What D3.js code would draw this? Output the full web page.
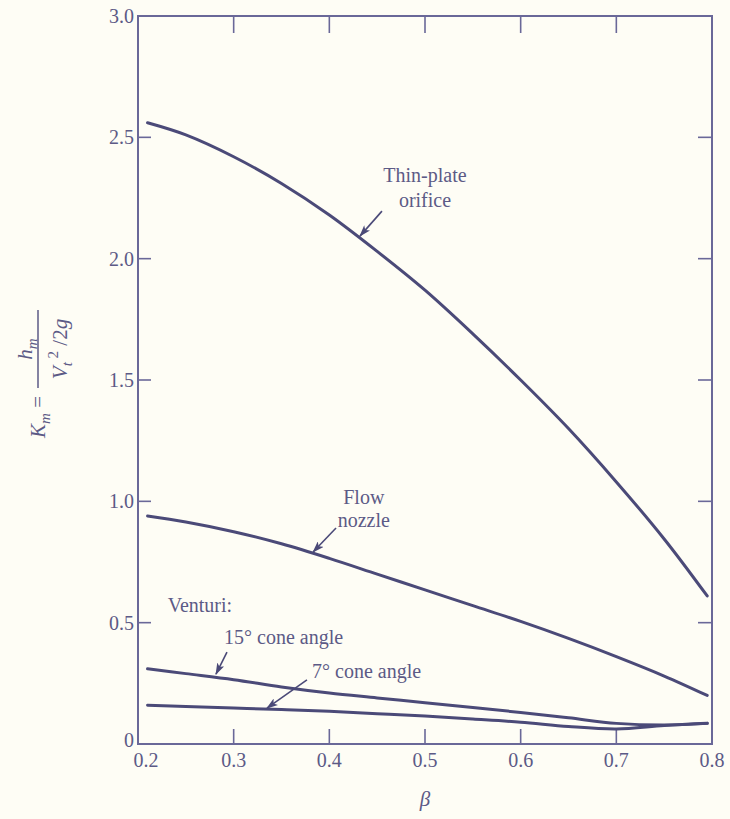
<!DOCTYPE html>
<html>
<head>
<meta charset="utf-8">
<script src="https://cdn.jsdelivr.net/npm/d3@7"></script>
<style>
  body { margin: 0; background: #fefdf5; }
  svg { display: block; }
</style>
</head>
<body>
<div id="chart"></div>
<script>

// Données (beta, coefficient K_m)
const beta = [0.21, 0.25, 0.3, 0.35, 0.4, 0.45, 0.5, 0.55, 0.6, 0.65, 0.7, 0.75, 0.795];
const orifice = [2.56, 2.51, 2.42, 2.31, 2.18, 2.03, 1.87, 1.69, 1.50, 1.30, 1.08, 0.845, 0.61];
const nozzle = [0.94, 0.915, 0.875, 0.825, 0.765, 0.70, 0.635, 0.57, 0.505, 0.435, 0.36, 0.28, 0.20];
const venturi15 = [0.31, 0.29, 0.265, 0.235, 0.21, 0.19, 0.17, 0.15, 0.13, 0.108, 0.085, 0.078, 0.085];
const venturi7 = [0.16, 0.155, 0.148, 0.142, 0.135, 0.125, 0.115, 0.103, 0.09, 0.072, 0.062, 0.076, 0.085];

const xTicks = [0.2, 0.3, 0.4, 0.5, 0.6, 0.7, 0.8];
const yTicks = [0, 0.5, 1.0, 1.5, 2.0, 2.5, 3.0];

const seriesList = [orifice, nozzle, venturi15, venturi7];

// Annotations (en unités de données)
const notes = [
    { lines: ["Thin-plate", "orifice"], x: 0.5, y: [2.345, 2.24], anchor: "middle",
      tail: [0.455, 2.196], tip: [0.432, 2.093] },
    { lines: ["Flow", "nozzle"], x: 0.436, y: [1.018, 0.923], anchor: "middle",
      tail: [0.407, 0.89], tip: [0.383, 0.791] },
    { lines: ["Venturi:"], x: 0.231, y: [0.573], anchor: "start" },
    { lines: ["15° cone angle"], x: 0.29, y: [0.441], anchor: "start",
      tail: [0.293, 0.379], tip: [0.2815, 0.288] },
    { lines: ["7° cone angle"], x: 0.382, y: [0.301], anchor: "start",
      tail: [0.3766, 0.264], tip: [0.3348, 0.148] }
];

//---------------------------------------------------------------------------------------

// Canevas

const width = 730;
const height = 819;
const plotLeft = 138, plotRight = 712, plotTop = 16, plotBottom = 744;

const ink = "#4b4a78";
const textInk = "#5c5a86";
const frameInk = "#6a6898";
const serif = "'Liberation Serif', 'DejaVu Serif', serif";

const svg = d3.select("#chart")
    .append("svg")
    .attr("width", width)
    .attr("height", height)
    .style("background", "#fefdf5");

// Échelles
const scaleX = d3.scaleLinear().domain([0.2, 0.8]).range([plotLeft, plotRight]);
const scaleY = d3.scaleLinear().domain([0, 3]).range([plotBottom, plotTop]);

//---------------------------------------------------------------------------------------

// Cadre et graduations intérieures

svg.append("rect")
    .attr("x", plotLeft).attr("y", plotTop)
    .attr("width", plotRight - plotLeft).attr("height", plotBottom - plotTop)
    .attr("fill", "none")
    .attr("stroke", frameInk)
    .attr("stroke-width", 2);

const innerX = xTicks.slice(1, -1);
const innerY = yTicks.slice(1, -1);

svg.append("g").selectAll("line")
    .data(innerX)
    .join("line")
    .attr("x1", d => scaleX(d)).attr("x2", d => scaleX(d))
    .attr("y1", plotBottom).attr("y2", plotBottom - 15)
    .attr("stroke", frameInk).attr("stroke-width", 1.6);

svg.append("g").selectAll("line")
    .data(innerX)
    .join("line")
    .attr("x1", d => scaleX(d)).attr("x2", d => scaleX(d))
    .attr("y1", plotTop).attr("y2", plotTop + 17)
    .attr("stroke", frameInk).attr("stroke-width", 1.6);

svg.append("g").selectAll("line")
    .data(innerY)
    .join("line")
    .attr("x1", plotLeft).attr("x2", plotLeft + 13)
    .attr("y1", d => scaleY(d)).attr("y2", d => scaleY(d))
    .attr("stroke", frameInk).attr("stroke-width", 1.6);

svg.append("g").selectAll("line")
    .data(innerY)
    .join("line")
    .attr("x1", plotRight).attr("x2", plotRight - 14)
    .attr("y1", d => scaleY(d)).attr("y2", d => scaleY(d))
    .attr("stroke", frameInk).attr("stroke-width", 1.6);

// Labels des axes
svg.append("g").selectAll("text")
    .data(xTicks)
    .join("text")
    .attr("x", d => scaleX(d) + (d === 0.2 ? 8 : 0))
    .attr("y", plotBottom + 23)
    .attr("text-anchor", "middle")
    .attr("font-family", serif)
    .attr("font-size", 20)
    .attr("fill", textInk)
    .text(d => d.toFixed(1));

svg.append("g").selectAll("text")
    .data(yTicks)
    .join("text")
    .attr("x", plotLeft - 4)
    .attr("y", d => scaleY(d) + (d === 0 ? 3 : 7))
    .attr("text-anchor", "end")
    .attr("font-family", serif)
    .attr("font-size", 20)
    .attr("fill", textInk)
    .text(d => d === 0 ? "0" : d.toFixed(1));

// Titre axe X
svg.append("text")
    .attr("x", scaleX(0.5))
    .attr("y", 806)
    .attr("text-anchor", "middle")
    .attr("font-family", serif)
    .attr("font-style", "italic")
    .attr("font-size", 21)
    .attr("fill", textInk)
    .text("β");

// Titre axe Y : K_m = h_m / (V_t^2 / 2g)
const yTitle = svg.append("g")
    .attr("transform", "translate(38, 388) rotate(-90)")
    .attr("font-family", serif)
    .attr("font-size", 21)
    .attr("fill", textInk);

yTitle.append("line")
    .attr("x1", 0).attr("x2", 78)
    .attr("y1", 0).attr("y2", 0)
    .attr("stroke", textInk).attr("stroke-width", 1.5);

const num = yTitle.append("text")
    .attr("x", 39).attr("y", -6)
    .attr("text-anchor", "middle");
num.append("tspan").attr("font-style", "italic").text("h");
num.append("tspan").attr("font-style", "italic").attr("font-size", 15).attr("dy", 5).text("m");

const den = yTitle.append("text")
    .attr("x", 39).attr("y", 29)
    .attr("text-anchor", "middle");
den.append("tspan").attr("font-style", "italic").text("V");
den.append("tspan").attr("font-style", "italic").attr("font-size", 15).attr("dy", 5).text("t");
den.append("tspan").attr("font-size", 15).attr("dy", -14).text(" 2");
den.append("tspan").attr("dy", 9).text(" /2");
den.append("tspan").attr("font-style", "italic").text("g");

const lhs = yTitle.append("text")
    .attr("x", -8).attr("y", 7)
    .attr("text-anchor", "end");
lhs.append("tspan").attr("font-style", "italic").text("K");
lhs.append("tspan").attr("font-style", "italic").attr("font-size", 15).attr("dy", 5).text("m");
lhs.append("tspan").attr("dy", -5).text(" =");

//---------------------------------------------------------------------------------------

// Courbes

const line = d3.line()
    .x(d => scaleX(d[0]))
    .y(d => scaleY(d[1]))
    .curve(d3.curveCatmullRom.alpha(0.5));

svg.append("g").selectAll("path")
    .data(seriesList)
    .join("path")
    .attr("d", s => line(beta.map((b, i) => [b, s[i]])))
    .attr("fill", "none")
    .attr("stroke", ink)
    .attr("stroke-width", 3)
    .attr("stroke-linecap", "round");

//---------------------------------------------------------------------------------------

// Annotations et flèches

svg.append("defs").append("marker")
    .attr("id", "arrow")
    .attr("viewBox", "0 0 12 8")
    .attr("refX", 11).attr("refY", 4)
    .attr("markerWidth", 12).attr("markerHeight", 8)
    .attr("markerUnits", "userSpaceOnUse")
    .attr("orient", "auto")
    .append("path")
    .attr("d", "M0,0 L12,4 L0,8 L3,4 Z")
    .attr("fill", ink);

notes.forEach(n => {
    n.lines.forEach((t, i) => {
        svg.append("text")
            .attr("x", scaleX(n.x))
            .attr("y", scaleY(n.y[i]))
            .attr("dy", "0.35em")
            .attr("text-anchor", n.anchor)
            .attr("font-family", serif)
            .attr("font-size", 20)
            .attr("fill", textInk)
            .text(t);
    });
    if (n.tail) {
        svg.append("line")
            .attr("x1", scaleX(n.tail[0])).attr("y1", scaleY(n.tail[1]))
            .attr("x2", scaleX(n.tip[0])).attr("y2", scaleY(n.tip[1]))
            .attr("stroke", ink)
            .attr("stroke-width", 1.6)
            .attr("marker-end", "url(#arrow)");
    }
});

</script>
</body>
</html>
